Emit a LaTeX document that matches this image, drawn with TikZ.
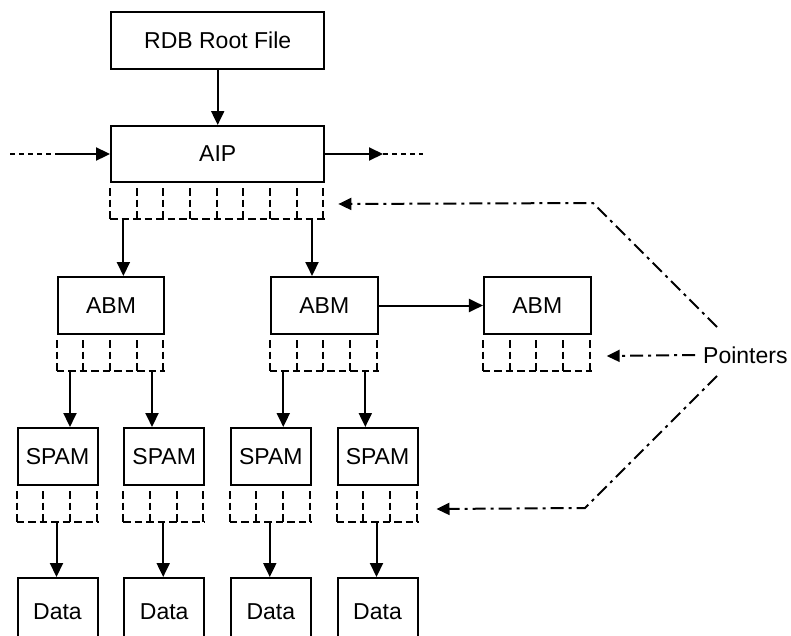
\documentclass[tikz,border=0pt]{standalone}
\usepackage{fontspec}
\setmainfont{Liberation Sans}
\usetikzlibrary{arrows.meta,calc}

\tikzset{
  box/.style={draw, line width=2pt, rectangle, inner sep=0pt,
    font=\fontsize{23}{27}\selectfont},
  arr/.style={line width=2pt, -{Triangle[length=14pt,width=13pt]}},
  slotdash/.style={line width=2pt, dash pattern=on 7.5pt off 4pt},
  feed/.style={line width=2pt, dash pattern=on 5pt off 4pt},
  ptrline/.style={line width=2pt, dash pattern=on 13pt off 5pt on 3pt off 5pt,
    -{Triangle[length=13pt,width=12pt]}},
}

% row of pointer slots under a block: #1 node name, #2 number of slots
\newcommand\drawslots[2]{%
  \foreach \k in {0,...,#2}
    \draw[slotdash] ($(#1.south west)+(\k*26.667,5)$) -- ++(0,31);
  \draw[slotdash] ($(#1.south west)+(0,36)$) -- ($(#1.south east)+(0,36)$);
}

\begin{document}
\begin{tikzpicture}[x=1pt,y=-1pt]
\useasboundingbox (0,0) rectangle (791,635);
\clip (0,0) rectangle (791,635);

% blocks
\node[box, minimum width=213.3pt, minimum height=57pt] (root) at (217.7,40.5) {RDB Root File};
\node[box, minimum width=213.3pt, minimum height=56pt] (aip) at (217.7,154) {AIP};

\node[box, minimum width=106.7pt, minimum height=57pt] (abm1) at (111,305.5) {ABM};
\node[box, minimum width=106.7pt, minimum height=57pt] (abm2) at (324.3,305.5) {ABM};
\node[box, minimum width=106.7pt, minimum height=57pt] (abm3) at (537.3,305.5) {ABM};

\foreach \n/\x in {1/57.5,2/164.2,3/270.8,4/377.5} {
  \node[box, minimum width=80pt, minimum height=57pt] (spam\n) at (\x,456.5) {SPAM};
  \node[box, minimum width=80pt, minimum height=68pt] (data\n) at (\x,612) {Data};
}

% pointer slots
\drawslots{aip}{8}
\drawslots{abm1}{4}
\drawslots{abm2}{4}
\drawslots{abm3}{4}
\foreach \n in {1,...,4} { \drawslots{spam\n}{3} }

% root to AIP
\draw[arr] (root) -- (aip);

% neighbouring AIPs
\coordinate (inL) at (10,154);
\coordinate (inM) at (55,154);
\coordinate (outM) at (383,154);
\coordinate (outR) at (423,154);
\draw[feed] (inL) -- (inM);
\draw[arr] (inM) -- (aip.west);
\draw[arr] (aip.east) -- (outM);
\draw[feed] (outM) -- (outR);

% AIP slots to ABMs
\coordinate (s1) at ($(aip.south west)+(13.33,36)$);
\coordinate (s8) at ($(aip.south east)+(-13.33,36)$);
\draw[arr] (s1) -- (s1 |- abm1.north);
\draw[arr] (s8) -- (s8 |- abm2.north);

% ABM chain
\draw[arr] (abm2.east) -- (abm3.west);

% ABM slots to SPAMs
\coordinate (b11) at ($(abm1.south west)+(13.33,36)$);
\coordinate (b14) at ($(abm1.south east)+(-13.33,36)$);
\coordinate (b21) at ($(abm2.south west)+(13.33,36)$);
\coordinate (b24) at ($(abm2.south east)+(-13.33,36)$);
\draw[arr] (b11) -- (b11 |- spam1.north);
\draw[arr] (b14) -- (b14 |- spam2.north);
\draw[arr] (b21) -- (b21 |- spam3.north);
\draw[arr] (b24) -- (b24 |- spam4.north);

% SPAM slots to data
\foreach \n in {1,...,4} {
  \coordinate (c\n) at ($(spam\n.south west)+(40,36)$);
  \draw[arr] (c\n) -- (c\n |- data\n.north);
}

% pointer legend
\node[inner sep=0pt, anchor=west, font=\fontsize{23}{27}\selectfont] (ptrs) at (703,355) {Pointers};
\coordinate (pt1) at (717,327);
\coordinate (pt2) at (593,203);
\coordinate (pb1) at (717,376);
\coordinate (pb2) at (585,508);
\draw[ptrline] (pt1) -- (pt2) -- ($(aip.south east)+(13,21)$);
\draw[ptrline] ($(ptrs.west)+(-8,0)$) -- ($(abm3.south east)+(15,21)$);
\draw[ptrline] (pb1) -- (pb2) -- ($(spam4.south east)+(18,23)$);
\end{tikzpicture}
\end{document}
